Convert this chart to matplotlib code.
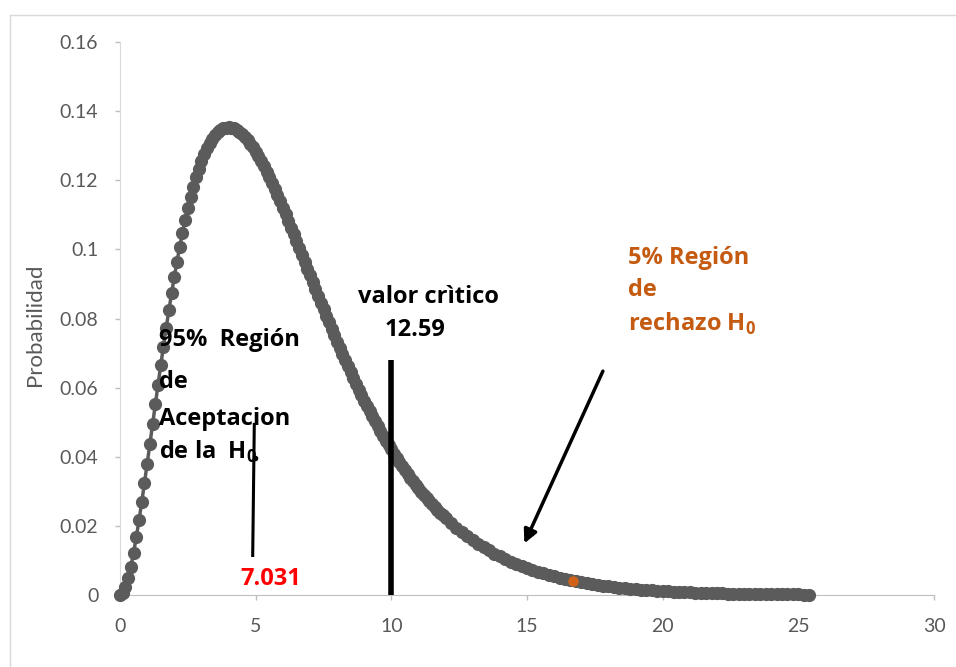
import numpy as np
import matplotlib
matplotlib.use('Agg')
import matplotlib.pyplot as plt
from matplotlib.lines import Line2D

plt.rcParams['font.family'] = ['Lato', 'DejaVu Sans']
plt.rcParams['mathtext.fontset'] = 'custom'
plt.rcParams['mathtext.rm'] = 'Open Sans'
plt.rcParams['mathtext.bf'] = 'Open Sans:bold'

# curva chi-cuadrado (paso 0.1 hasta 12, luego paso 0.2)
x_fino = np.round(np.arange(0, 12.01, 0.1), 1)
p_fino = [
    0.0, 0.0006, 0.00226, 0.00484, 0.00819, 0.01217, 0.01667, 0.02158, 0.02681, 0.03228,
    0.03791, 0.04363, 0.04939, 0.05514, 0.06083, 0.06643, 0.07189, 0.07720, 0.08233, 0.08726,
    0.09197, 0.09645, 0.10069, 0.10469, 0.10843, 0.11192, 0.11514, 0.11812, 0.12083, 0.12330,
    0.12551, 0.12748, 0.12921, 0.13072, 0.13199, 0.13305, 0.13389, 0.13454, 0.13499, 0.13525,
    0.13534, 0.13525, 0.13501, 0.13461, 0.13407, 0.13340, 0.13259, 0.13167, 0.13063, 0.12950,
    0.12826, 0.12693, 0.12552, 0.12404, 0.12248, 0.12086, 0.11919, 0.11746, 0.11569, 0.11387,
    0.11202, 0.11014, 0.10823, 0.10630, 0.10435, 0.10239, 0.10041, 0.09843, 0.09645, 0.09446,
    0.09248, 0.09050, 0.08853, 0.08657, 0.08462, 0.08268, 0.08076, 0.07886, 0.07697, 0.07511,
    0.07326, 0.07144, 0.06965, 0.06787, 0.06613, 0.06441, 0.06272, 0.06106, 0.05942, 0.05782,
    0.05624, 0.05469, 0.05318, 0.05169, 0.05023, 0.04880, 0.04740, 0.04603, 0.04470, 0.04339,
    0.04211, 0.04086, 0.03965, 0.03845, 0.03730, 0.03616, 0.03506, 0.03397, 0.03293, 0.03190,
    0.03091, 0.02993, 0.02899, 0.02807, 0.02718, 0.02631, 0.02547, 0.02464, 0.02384, 0.02306,
    0.02231,
]
x_cola = np.round(np.arange(12.2, 25.41, 0.2), 1)
p_cola = [
    0.02086, 0.01950, 0.01822, 0.01701, 0.01588, 0.01481, 0.01381, 0.01288, 0.01200, 0.01117,
    0.01040, 0.00968, 0.00900, 0.00837, 0.00778, 0.00723, 0.00671, 0.00623, 0.00578, 0.00537,
    0.00498, 0.00462, 0.00428, 0.00397, 0.00368, 0.00340, 0.00315, 0.00292, 0.00270, 0.00250,
    0.00231, 0.00214, 0.00198, 0.00183, 0.00169, 0.00156, 0.00144, 0.00133, 0.00123, 0.00114,
    0.00105, 0.00097, 0.00089, 0.00082, 0.00076, 0.00070, 0.00065, 0.00059, 0.00055, 0.00051,
    0.00047, 0.00043, 0.00039, 0.00036, 0.00033, 0.00031, 0.00028, 0.00026, 0.00024, 0.00022,
    0.00020, 0.00019, 0.00017, 0.00016, 0.00015, 0.00013, 0.00012,
]
x_curva = np.concatenate([x_fino, x_cola])
p_curva = np.array(p_fino + p_cola)

# punto resaltado y lineas de referencia
x_naranja, p_naranja = 16.7, 0.0041
x_critico, alto_critico = 10.0, 0.068

y_ticks = [0, 0.02, 0.04, 0.06, 0.08, 0.10, 0.12, 0.14, 0.16]
y_etiquetas = ['0', '0.02', '0.04', '0.06', '0.08', '0.1', '0.12', '0.14', '0.16']
x_ticks = [0, 5, 10, 15, 20, 25, 30]

gris = '#5b5b5b'
eje = '#bfbfbf'
texto = '#595959'
naranja = '#c55a11'
negrita = dict(fontsize=17, fontweight='bold', family='Open Sans')

fig = plt.figure(figsize=(9.56, 6.67), dpi=100)
ax = fig.add_axes([120 / 956, 72 / 667, 814 / 956, 553 / 667])

# marco del grafico (solo visible arriba e izquierda)
fig.add_artist(Line2D([10 / 956, 10 / 956], [0, 1 - 15 / 667], transform=fig.transFigure, color='#d9d9d9', lw=1))
fig.add_artist(Line2D([10 / 956, 1], [1 - 15 / 667, 1 - 15 / 667], transform=fig.transFigure, color='#d9d9d9', lw=1))

ax.plot(x_curva, p_curva, color=gris, lw=2.5, marker='o', markersize=8.5,
        markerfacecolor=gris, markeredgecolor=gris, clip_on=False, zorder=3)
ax.plot([x_naranja], [p_naranja], 'o', color='#cf6218', markersize=6.5, zorder=4)

# linea del valor critico y linea de 7.031
ax.plot([x_critico, x_critico], [0, alto_critico], color='black', lw=4, solid_capstyle='butt', zorder=5)
ax.plot([4.89, 4.95], [0.011, 0.0498], color='black', lw=2.2, solid_capstyle='butt', zorder=5)
ax.plot([4.96], [0.0396], 'o', color='black', markersize=3, zorder=5)

ax.annotate('', xy=(14.86, 0.0142), xytext=(17.84, 0.0655),
            arrowprops=dict(arrowstyle='-|>,head_length=0.8,head_width=0.4', color='black', lw=2.5),
            zorder=6)

ax.text(1.43, 0.0720, '95%  Región', color='black', va='baseline', zorder=4, **negrita)
ax.text(1.43, 0.0599, 'de', color='black', va='baseline', zorder=4, **negrita)
ax.text(1.43, 0.0492, 'Aceptacion', color='black', va='baseline', zorder=4, **negrita)
ax.text(1.43, 0.0394, r'de la  H$_{\mathbf{0}}$', color='black', va='baseline', zorder=4, **negrita)

ax.text(11.35, 0.0845, 'valor crìtico', color='black', ha='center', va='baseline', **negrita)
ax.text(10.87, 0.0749, '12.59', color='black', ha='center', va='baseline', **negrita)
ax.text(5.56, 0.0029, '7.031', color='#ff0000', ha='center', va='baseline', **negrita)

ax.text(18.72, 0.0958, '5% Región', color=naranja, va='baseline', **negrita)
ax.text(18.72, 0.0865, 'de', color=naranja, va='baseline', **negrita)
ax.text(18.72, 0.0764, r'rechazo H$_{\mathbf{0}}$', color=naranja, va='baseline', **negrita)

ax.set_xlim(0, 30)
ax.set_ylim(0, 0.16)
ax.set_xticks(x_ticks)
ax.set_xticklabels([str(t) for t in x_ticks])
ax.set_yticks(y_ticks)
ax.set_yticklabels(y_etiquetas)

for lado in ['top', 'right']:
    ax.spines[lado].set_visible(False)
ax.spines['left'].set_color('#d9d9d9')
ax.spines['bottom'].set_color(eje)
ax.tick_params(axis='both', colors=eje, labelcolor=texto, labelsize=14, length=3.6, width=1)
ax.tick_params(axis='y', pad=12)
ax.tick_params(axis='x', pad=13)

ax.set_ylabel('Probabilidad', fontsize=16, color=texto)
ax.yaxis.set_label_coords(-0.092, 0.488)

fig.savefig('out.png', dpi=100)
